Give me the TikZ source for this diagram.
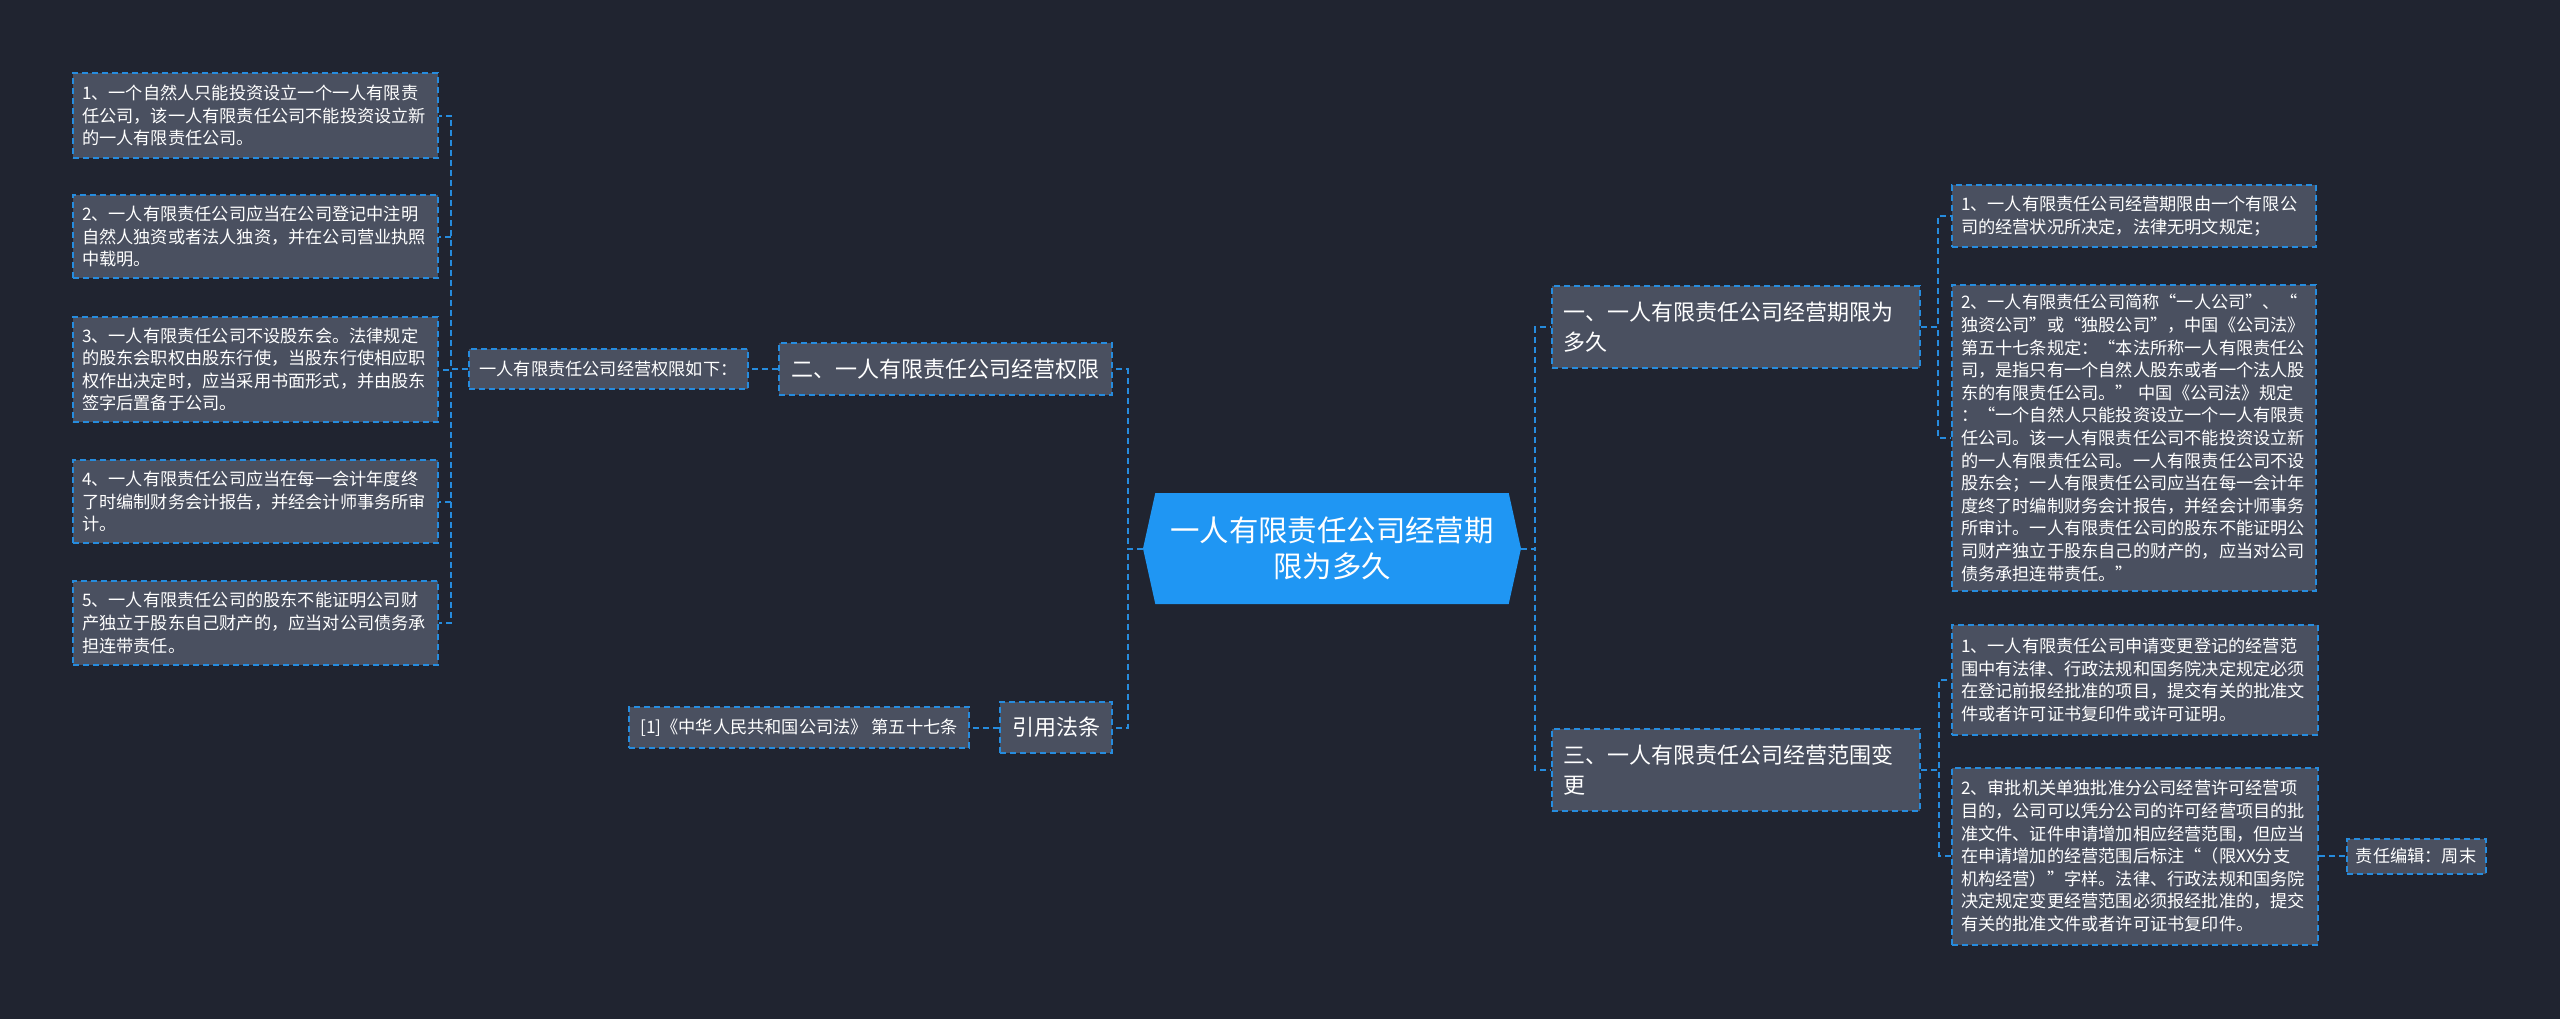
\documentclass[tikz,border=0pt]{standalone}
\usepackage{fontspec}
\setmainfont{Noto Sans CJK SC}
\usepackage{tikz}
\usetikzlibrary{shapes.symbols}
\usepackage{xcolor}
\definecolor{bgnavy}{RGB}{32,36,48}
\definecolor{boxgray}{RGB}{74,80,96}
\definecolor{linkblue}{RGB}{38,140,222}
\definecolor{hubblue}{RGB}{31,150,243}

\tikzset{
  link/.style={linkblue, line width=1pt, dash pattern=on 3pt off 2pt},
  card/.style={draw=linkblue, line width=1pt, dash pattern=on 3pt off 2pt,
    fill=boxgray, text=white, inner xsep=4.5pt, inner ysep=3pt},
  leaf/.style={card, align=left, font=\fontsize{8.6pt}{11.3pt}\selectfont},
  tag/.style={card, font=\fontsize{8.6pt}{11.3pt}\selectfont},
  branch/.style={card, inner xsep=5.5pt, font=\fontsize{11pt}{15pt}\selectfont},
}

\begin{document}
\begin{tikzpicture}[x=0.5pt, y=-0.5pt]
    \useasboundingbox (0,0) rectangle (2560,1019);
    \fill[bgnavy] (0,0) rectangle (2560,1019);

    \node[shape=signal, signal to=east and west, signal pointer angle=155,
      fill=hubblue, text=white, align=center, minimum width=189pt, minimum height=55.5pt,
      font=\fontsize{14.7pt}{18.3pt}\selectfont] (hub) at (1332,548.5)
      {一人有限责任公司经营期\\限为多久};

    \node[branch, minimum width=166.5pt, minimum height=26pt] (branch2) at (945.5,369) {二、一人有限责任公司经营权限};
    \node[tag, minimum width=139.5pt, minimum height=20pt] (rule) at (608.5,369) {一人有限责任公司经营权限如下：};
    \node[branch, minimum width=56pt, minimum height=25.5pt] (cite) at (1056,727.5) {引用法条};
    \node[tag, minimum width=170pt, minimum height=20.5pt] (ref) at (799,727.5) {[1]《中华人民共和国公司法》 第五十七条};

    \node[leaf, text width=173.5pt, minimum height=42.5pt] (L1) at (255.5,115.5)
      {1、一个自然人只能投资设立一个一人有限责\\任公司，该一人有限责任公司不能投资设立新\\的一人有限责任公司。};
    \node[leaf, text width=173.5pt, minimum height=41.5pt] (L2) at (255.5,236.5)
      {2、一人有限责任公司应当在公司登记中注明\\自然人独资或者法人独资，并在公司营业执照\\中载明。};
    \node[leaf, text width=173.5pt, minimum height=52.5pt] (L3) at (255.5,369.5)
      {3、一人有限责任公司不设股东会。法律规定\\的股东会职权由股东行使，当股东行使相应职\\权作出决定时，应当采用书面形式，并由股东\\签字后置备于公司。};
    \node[leaf, text width=173.5pt, minimum height=41.5pt] (L4) at (255.5,501.5)
      {4、一人有限责任公司应当在每一会计年度终\\了时编制财务会计报告，并经会计师事务所审\\计。};
    \node[leaf, text width=173.5pt, minimum height=42pt] (L5) at (255.5,623)
      {5、一人有限责任公司的股东不能证明公司财\\产独立于股东自己财产的，应当对公司债务承\\担连带责任。};

    \node[branch, align=left, text width=173pt, minimum height=41pt] (R1) at (1736,327)
      {一、一人有限责任公司经营期限为\\多久};
    \node[branch, align=left, text width=173pt, minimum height=41pt] (R3) at (1736,770)
      {三、一人有限责任公司经营范围变\\更};

    \node[leaf, text width=173pt, minimum height=31pt] (R1a) at (2134,216)
      {1、一人有限责任公司经营期限由一个有限公\\司的经营状况所决定，法律无明文规定；};
    \node[leaf, text width=173pt, minimum height=153pt] (R1b) at (2134,438)
      {2、一人有限责任公司简称“一人公司”、“\\独资公司”或“独股公司”，中国《公司法》\\第五十七条规定：“本法所称一人有限责任公\\司，是指只有一个自然人股东或者一个法人股\\东的有限责任公司。” 中国《公司法》规定\\：“一个自然人只能投资设立一个一人有限责\\任公司。该一人有限责任公司不能投资设立新\\的一人有限责任公司。一人有限责任公司不设\\股东会；一人有限责任公司应当在每一会计年\\度终了时编制财务会计报告，并经会计师事务\\所审计。一人有限责任公司的股东不能证明公\\司财产独立于股东自己的财产的，应当对公司\\债务承担连带责任。”};
    \node[leaf, text width=174pt, minimum height=55pt] (R3a) at (2135,680)
      {1、一人有限责任公司申请变更登记的经营范\\围中有法律、行政法规和国务院决定规定必须\\在登记前报经批准的项目，提交有关的批准文\\件或者许可证书复印件或许可证明。};
    \node[leaf, text width=174pt, minimum height=88.5pt] (R3b) at (2135,856)
      {2、审批机关单独批准分公司经营许可经营项\\目的，公司可以凭分公司的许可经营项目的批\\准文件、证件申请增加相应经营范围，但应当\\在申请增加的经营范围后标注“（限XX分支\\机构经营）”字样。法律、行政法规和国务院\\决定规定变更经营范围必须报经批准的，提交\\有关的批准文件或者许可证书复印件。};
    \node[tag, minimum width=69.5pt, minimum height=17.5pt] (editor) at (2416,856) {责任编辑：周末};

    \draw[link] (hub.west) -- +(-15,0) |- (branch2.east);
    \draw[link] (hub.west) -- +(-15,0) |- (cite.east);
    \draw[link] (branch2.west) -- (rule.east);
    \draw[link] (cite.west) -- (ref.east);
    \foreach \n in {L1,L2,L3,L4,L5}
      \draw[link] (rule.west) -- +(-17,0) |- (\n.east);
    \draw[link] (hub.east) -- +(14,0) |- (R1.west);
    \draw[link] (hub.east) -- +(14,0) |- (R3.west);
    \foreach \n in {R1a,R1b}
      \draw[link] (R1.east) -- +(17,0) |- (\n.west);
    \foreach \n in {R3a,R3b}
      \draw[link] (R3.east) -- +(18,0) |- (\n.west);
    \draw[link] (R3b.east) -- (editor.west);
  \end{tikzpicture}
\end{document}
